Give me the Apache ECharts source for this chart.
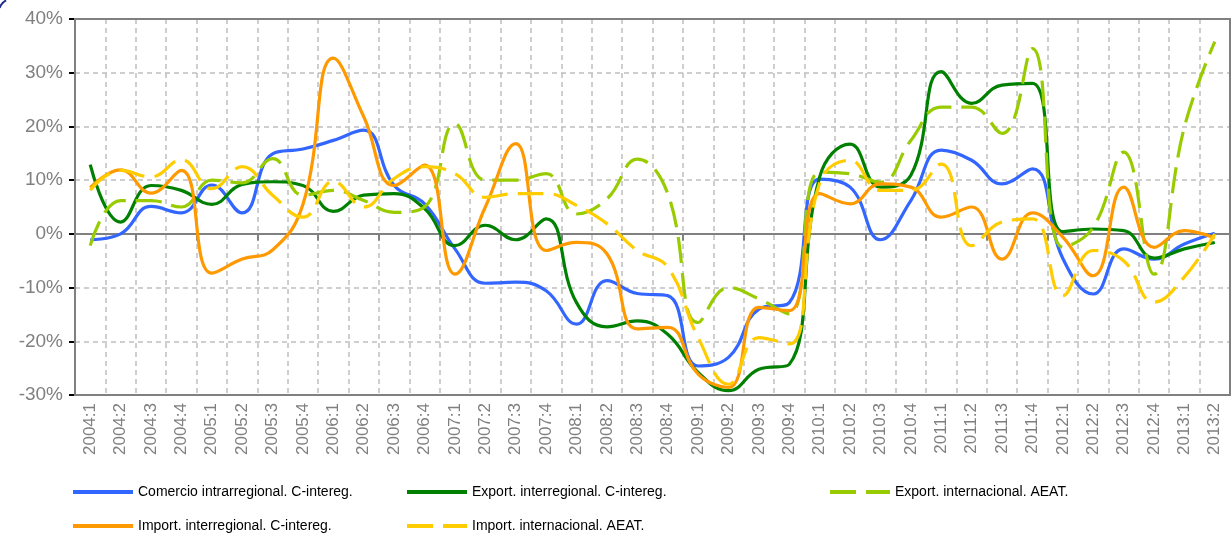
<!DOCTYPE html>
<html lang="es" style="height: 100%">
<head>
  <meta charset="utf-8">
</head>
<body style="height: 100%; margin: 0; background: #fff">
  <div id="container" style="width: 1232px; height: 536px"></div>

  <script type="text/javascript" src="https://cdn.jsdelivr.net/npm/echarts@6/dist/echarts.min.js"></script>

  <script type="text/javascript">
    // trimestres
    var quarters = [
      '2004:1','2004:2','2004:3','2004:4','2005:1','2005:2','2005:3','2005:4',
      '2006:1','2006:2','2006:3','2006:4','2007:1','2007:2','2007:3','2007:4',
      '2008:1','2008:2','2008:3','2008:4','2009:1','2009:2','2009:3','2009:4',
      '2010:1','2010:2','2010:3','2010:4','2011:1','2011:2','2011:3','2011:4',
      '2012:1','2012:2','2012:3','2012:4','2013:1','2013:2'
    ];

    // tasas de variación (%)
    var comercioIntra = [
      -1.1, 0, 5.1, 3.9, 9.1, 3.9, 14.9, 15.8, 17.4, 19.3, 9.0, 5.6,
      -2.8, -9.2, -9.0, -10.6, -16.8, -8.7, -11.1, -11.5, -24.6, -23.0, -14.0, -12.8,
      10.2, 8.7, -1.1, 6.2, 15.6, 13.7, 9.3, 12.1, -4.6, -11.2, -2.8, -4.7, -1.9, 0.1
    ];
    var exportInter = [
      12.9, 2.2, 9.0, 8.1, 5.5, 9.2, 9.7, 9.0, 4.2, 7.2, 7.5, 4.7,
      -2.2, 1.6, -1.1, 2.8, -12.8, -17.3, -16.2, -18.7, -25.8, -29.2, -25.2, -24.3,
      10.6, 16.7, 8.7, 10.9, 30.2, 24.3, 27.7, 28.0, 0.4, 0.9, 0.6, -4.5, -2.8, -1.6
    ];
    var exportIntl = [
      -2.2, 6.2, 6.2, 5.0, 10.0, 9.5, 14.0, 7.2, 8.1, 6.2, 4.0, 5.0,
      20.5, 10.0, 10.0, 11.2, 3.7, 6.5, 13.9, 7.5, -16.5, -10.0, -12.1, -14.9,
      11.5, 11.2, 9.6, 17.4, 23.6, 23.6, 18.7, 34.5, -2.5, 1.2, 15.2, -7.5, 19.9, 35.8
    ];
    var importInter = [
      8.6, 11.9, 7.6, 11.8, -7.3, -4.7, -3.0, 5.5, 32.7, 21.8, 9.0, 12.8,
      -7.5, 5.0, 16.8, -3.1, -1.6, -3.7, -17.7, -17.4, -26.1, -28.6, -13.7, -14.3,
      7.5, 5.6, 9.3, 8.7, 3.1, 5.0, -4.7, 3.9, -0.6, -7.8, 8.7, -2.5, 0.6, -0.8
    ];
    var importIntl = [
      8.1, 11.8, 10.6, 13.8, 8.4, 12.5, 7.2, 3.1, 9.8, 5.0, 10.3, 12.5,
      11.2, 6.8, 7.5, 7.5, 5.3, 1.9, -3.1, -6.2, -19.3, -28.0, -19.3, -20.5,
      9.5, 13.7, 8.1, 8.1, 13.0, -2.2, 2.2, 2.8, -11.5, -3.1, -5.0, -12.7, -8.0, 0.0
    ];

    var seriesNames = [
      'Comercio intrarregional. C-intereg.',
      'Export. interregional. C-intereg.',
      'Export. internacional. AEAT.',
      'Import. interregional. C-intereg.',
      'Import. internacional. AEAT.'
    ];

    var dom = document.getElementById('container');
    var myChart = echarts.init(dom, null, { renderer: 'canvas' });

    function line(name, data, color, dashed) {
      return {
        name: name,
        type: 'line',
        data: data,
        smooth: 0.45,
        symbol: 'none',
        color: color,
        lineStyle: { width: 3.2, color: color, type: dashed ? [26, 10] : 'solid' }
      };
    }

    function legendAt(name, left, top) {
      return {
        data: [name],
        left: left,
        top: top,
        padding: 0,
        itemWidth: 60,
        itemHeight: 10,
        itemGap: 0,
        itemStyle: { opacity: 0 },
        lineStyle: { width: 4 },
        textStyle: { fontFamily: 'Liberation Sans', fontSize: 14, color: '#000' }
      };
    }

    var option = {
      animation: false,
      grid: {
        left: 75, right: 2, top: 19, bottom: 141, z: 3,
        show: true, borderColor: '#808080', borderWidth: 2
      },
      graphic: [{
        type: 'arc',
        shape: { cx: 12, cy: 12, r: 13, startAngle: Math.PI * 1.1, endAngle: Math.PI * 1.35 },
        style: { stroke: '#1f2a8f', lineWidth: 2, fill: null }
      }],
      legend: [
        legendAt(seriesNames[0], 71, 485),
        legendAt(seriesNames[1], 405, 485),
        legendAt(seriesNames[2], 828, 485),
        legendAt(seriesNames[3], 71, 519),
        legendAt(seriesNames[4], 405, 519)
      ],
      xAxis: [
        {
          type: 'category',
          data: quarters,
          boundaryGap: true,
          position: 'bottom',
          axisLine: { onZero: false, lineStyle: { color: '#808080', width: 2 } },
          axisTick: { show: false },
          axisLabel: {
            rotate: 90, interval: 0, margin: 8,
            fontFamily: 'Liberation Sans', fontSize: 17, color: '#7f7f7f'
          },
          splitLine: { show: true, lineStyle: { color: '#bfbfbf', width: 1.5, type: [5, 4] } }
        },
        {
          type: 'category',
          data: quarters,
          boundaryGap: true,
          position: 'top',
          axisLine: { onZero: true, lineStyle: { color: '#808080', width: 2 } },
          axisTick: { show: true, inside: true, length: 7, lineStyle: { color: '#808080', width: 2 } },
          axisLabel: { show: false },
          splitLine: { show: false }
        }
      ],
      yAxis: {
        type: 'value',
        min: -30, max: 40, interval: 10,
        axisLine: { show: true, lineStyle: { color: '#000', width: 2 } },
        axisTick: { show: true, length: 6, lineStyle: { color: '#000', width: 2 } },
        axisLabel: {
          formatter: '{value}%', margin: 12,
          fontFamily: 'Liberation Sans', fontSize: 19, color: '#808080'
        },
        splitLine: { show: true, lineStyle: { color: '#bfbfbf', width: 1.5, type: [5, 4] } }
      },
      series: [
        line(seriesNames[0], comercioIntra, '#3366ff', false),
        line(seriesNames[1], exportInter, '#008000', false),
        line(seriesNames[2], exportIntl, '#99cc00', true),
        line(seriesNames[3], importInter, '#ff9900', false),
        line(seriesNames[4], importIntl, '#ffcc00', true)
      ]
    };

    myChart.setOption(option);

    window.addEventListener('resize', function() {
      myChart.resize();
    });
  </script>
</body>
</html>
